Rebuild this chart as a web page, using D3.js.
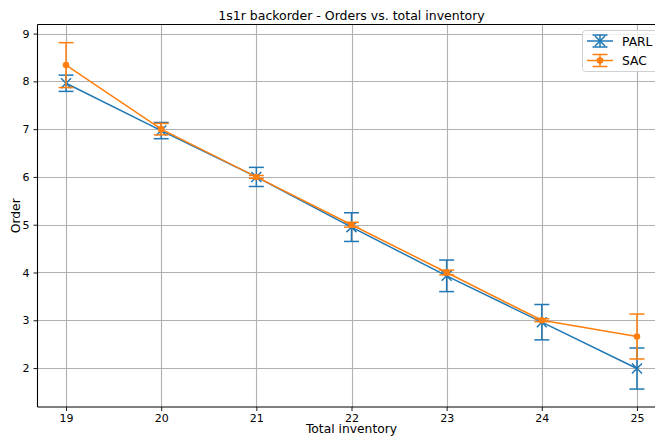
<!DOCTYPE html>
<html><head><meta charset="utf-8">
<script src="https://cdn.jsdelivr.net/npm/d3@7/dist/d3.min.js"></script>
<style>body{margin:0;background:#fff;} svg{display:block;font-family:"DejaVu Sans",sans-serif;}</style>
</head><body>
<script>
const inventory = [19, 20, 21, 22, 23, 24, 25];
const parlMean = [7.96, 6.97, 6.0, 4.95, 3.93, 2.96, 1.99];
const parlErr  = [0.17, 0.17, 0.2, 0.30, 0.33, 0.37, 0.43];
const sacMean  = [8.34, 7.0, 6.0, 5.0, 4.0, 3.0, 2.66];
const sacErr   = [0.47, 0.12, 0.03, 0.05, 0.05, 0.03, 0.47];
const xTicks = [19, 20, 21, 22, 23, 24, 25];
const yTicks = [2, 3, 4, 5, 6, 7, 8, 9];
const seriesNames = ["PARL", "SAC"];
const colors = ["#1f77b4", "#ff7f0e"];

const W = 655, H = 436;
const svg = d3.select("body").append("svg").attr("width", W).attr("height", H);
const L = 37.5, R = 665.5, T = 24.5, B = 407;
const x = d3.scaleLinear().domain([18.7, 25.3]).range([L, R]);
const y = d3.scaleLinear().domain([1.185, 9.19]).range([B, T]);

// grid
const g = svg.append("g");
g.selectAll(".gx").data(xTicks).join("line")
  .attr("x1", d => Math.round(x(d)) + 0.5).attr("x2", d => Math.round(x(d)) + 0.5)
  .attr("y1", T).attr("y2", B).attr("stroke", "#b0b0b0").attr("stroke-width", 1.1);
g.selectAll(".gy").data(yTicks).join("line")
  .attr("y1", d => Math.round(y(d)) + 0.5).attr("y2", d => Math.round(y(d)) + 0.5)
  .attr("x1", L).attr("x2", R).attr("stroke", "#b0b0b0").attr("stroke-width", 1.1);

// axes
const xAxis = d3.axisBottom(x).tickValues(xTicks).tickSize(4).tickPadding(3).tickFormat(d3.format("d"));
const yAxis = d3.axisLeft(y).tickValues(yTicks).tickSize(4).tickPadding(4).tickFormat(d3.format("d"));
const gx = svg.append("g").attr("transform", `translate(0,${B})`).call(xAxis);
const gy = svg.append("g").attr("transform", `translate(${L},0)`).call(yAxis);
[gx, gy].forEach(a => {
  a.select(".domain").remove();
  a.selectAll("text").attr("font-size", 11).attr("fill", "#000").attr("font-family", "DejaVu Sans");
  a.selectAll("line").attr("stroke", "#000").attr("stroke-width", 0.9);
});
// spines
svg.append("line").attr("x1", L).attr("x2", L).attr("y1", T).attr("y2", B).attr("stroke", "#000").attr("stroke-width", 1.1);
svg.append("line").attr("x1", L).attr("x2", R).attr("y1", B).attr("y2", B).attr("stroke", "#000").attr("stroke-width", 1.1);
svg.append("line").attr("x1", L).attr("x2", R).attr("y1", T).attr("y2", T).attr("stroke", "#000").attr("stroke-width", 1.1);
svg.append("line").attr("x1", R).attr("x2", R).attr("y1", T).attr("y2", B).attr("stroke", "#000").attr("stroke-width", 1.1);

// series
const series = [
  {name: seriesNames[0], mean: parlMean, err: parlErr, color: colors[0], marker: "x"},
  {name: seriesNames[1], mean: sacMean, err: sacErr, color: colors[1], marker: "dot"}
];
const capW = 7.5;
function drawMarker(sel, cx, cy, s) {
  if (s.marker === "x") {
    const r = 5;
    sel.append("path").attr("d", `M${cx-r},${cy-r}L${cx+r},${cy+r}M${cx-r},${cy+r}L${cx+r},${cy-r}`)
      .attr("stroke", s.color).attr("stroke-width", 1.5).attr("fill", "none");
  } else {
    sel.append("circle").attr("cx", cx).attr("cy", cy).attr("r", 3.3).attr("fill", s.color);
  }
}
const line = d3.line().x((d, i) => x(inventory[i])).y(d => y(d));
series.forEach(s => {
  const sg = svg.append("g");
  sg.append("path").datum(s.mean).attr("d", line).attr("fill", "none")
    .attr("stroke", s.color).attr("stroke-width", 1.5);
  inventory.forEach((v, i) => {
    const cx = x(v), lo = y(s.mean[i] - s.err[i]), hi = y(s.mean[i] + s.err[i]);
    sg.append("line").attr("x1", cx).attr("x2", cx).attr("y1", lo).attr("y2", hi)
      .attr("stroke", s.color).attr("stroke-width", 1.5);
    [lo, hi].forEach(yy => sg.append("line").attr("x1", cx - capW).attr("x2", cx + capW)
      .attr("y1", yy).attr("y2", yy).attr("stroke", s.color).attr("stroke-width", 1.5));
    drawMarker(sg, cx, y(s.mean[i]), s);
  });
});

// title & labels
svg.append("text").attr("x", (L + R) / 2).attr("y", 19.5).attr("text-anchor", "middle")
  .attr("font-size", 12.5).text("1s1r backorder - Orders vs. total inventory");
svg.append("text").attr("x", (L + R) / 2).attr("y", 432.5).attr("text-anchor", "middle")
  .attr("font-size", 12.3).text("Total inventory");
svg.append("text").attr("transform", `translate(20,${(T + B) / 2}) rotate(-90)`).attr("text-anchor", "middle")
  .attr("font-size", 12.3).text("Order");

// legend
const lg = svg.append("g");
lg.append("rect").attr("x", 582.5).attr("y", 30.5).attr("width", 100).attr("height", 41).attr("rx", 3)
  .attr("fill", "#fff").attr("fill-opacity", 0.8).attr("stroke", "#d0d0d0").attr("stroke-width", 1);
series.forEach((s, i) => {
  const cy = 41 + i * 19.5, x0 = 587, x1 = 613, cx = (x0 + x1) / 2;
  lg.append("line").attr("x1", x0).attr("x2", x1).attr("y1", cy).attr("y2", cy).attr("stroke", s.color).attr("stroke-width", 1.5);
  lg.append("line").attr("x1", cx).attr("x2", cx).attr("y1", cy - 6).attr("y2", cy + 6).attr("stroke", s.color).attr("stroke-width", 1.5);
  [cy - 6, cy + 6].forEach(yy => lg.append("line").attr("x1", cx - capW).attr("x2", cx + capW).attr("y1", yy).attr("y2", yy).attr("stroke", s.color).attr("stroke-width", 1.5));
  drawMarker(lg, cx, cy, s);
  lg.append("text").attr("x", 622).attr("y", cy + 4.5).attr("font-size", 12.3).text(s.name);
});
</script>
</body></html>
